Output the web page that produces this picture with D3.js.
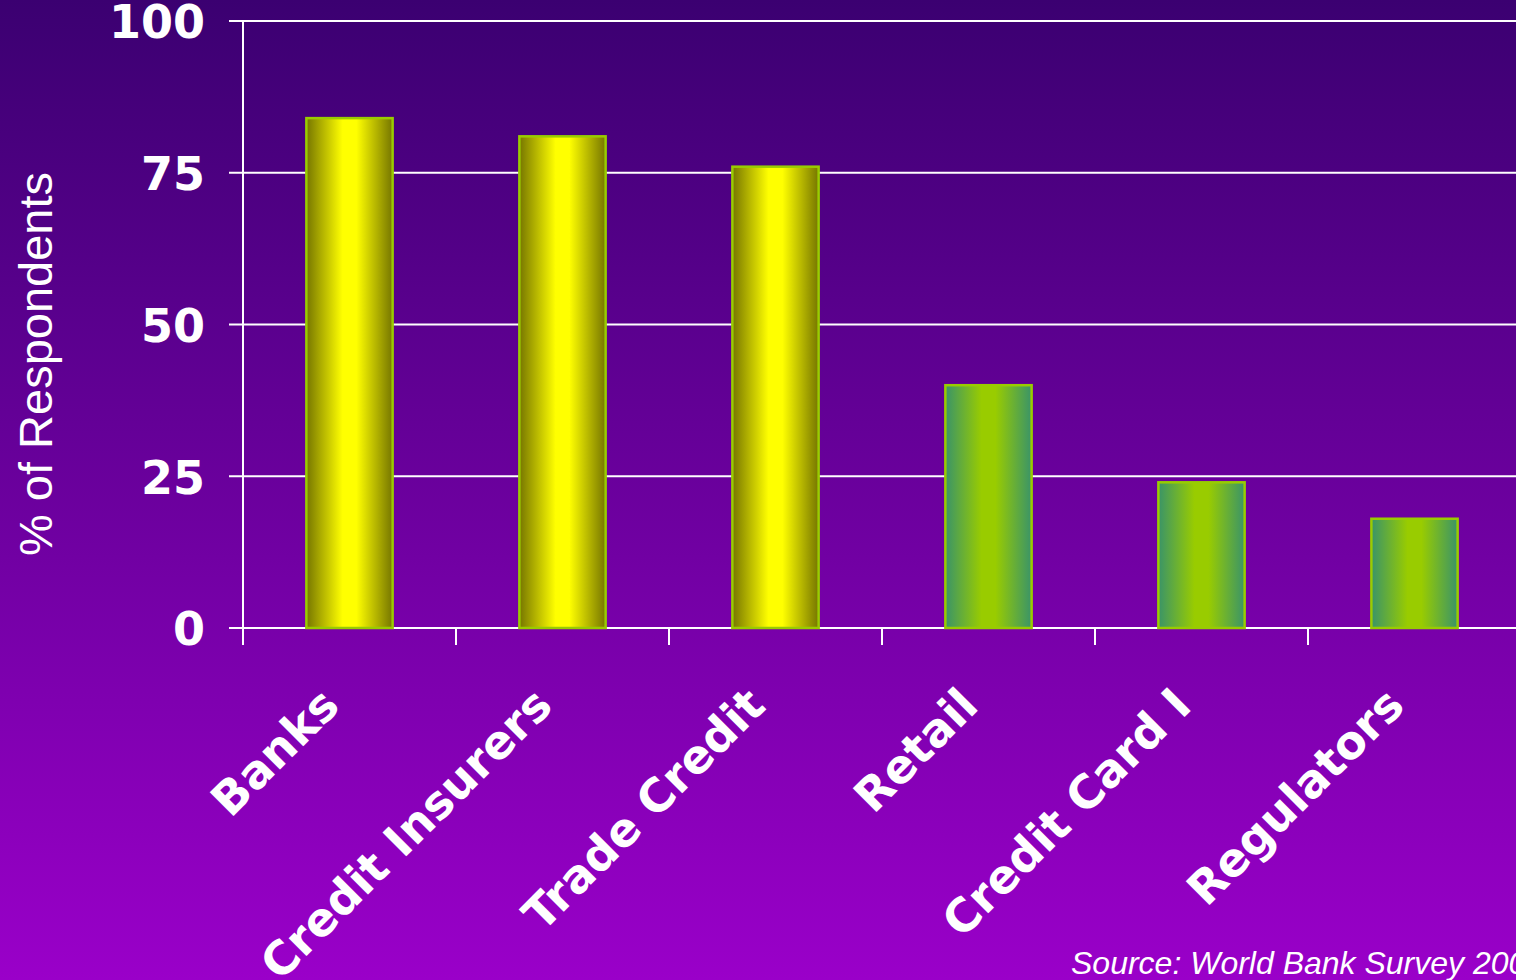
<!DOCTYPE html>
<html>
<head>
<meta charset="utf-8">
<script src="https://cdn.jsdelivr.net/npm/d3@7"></script>
<style>
  body { margin: 0; overflow: hidden; }
  svg { display: block; }
</style>
</head>
<body>
<svg></svg>
<script>
const [WIDTH, HEIGHT] = [1516, 980];
const PLOT_LEFT = 243;
const PLOT_TOP = 21;
const PLOT_BOTTOM = 628;
const BAND = 213;

const categories = ["Banks", "Credit Insurers", "Trade Credit", "Retail", "Credit Card I", "Regulators"];
const respondents = [84, 81, 76, 40, 24, 18];
const barStyle = ["yellow", "yellow", "yellow", "green", "green", "green"];
const yTicks = [0, 25, 50, 75, 100];

const svg = d3.select("svg").attr("width", WIDTH).attr("height", HEIGHT);
const defs = svg.append("defs");

// background gradient
const bg = defs.append("linearGradient").attr("id", "bg")
  .attr("x1", 0).attr("y1", 0).attr("x2", 0).attr("y2", 1);
bg.append("stop").attr("offset", "0%").attr("stop-color", "#3b0071");
bg.append("stop").attr("offset", "100%").attr("stop-color", "#9a00c9");

// bar gradients (cylinder look)
const makeBarGradient = (id, edge, mid) => {
  const g = defs.append("linearGradient").attr("id", id)
    .attr("x1", 0).attr("y1", 0).attr("x2", 1).attr("y2", 0);
  g.append("stop").attr("offset", "0%").attr("stop-color", edge);
  g.append("stop").attr("offset", "42%").attr("stop-color", mid);
  g.append("stop").attr("offset", "58%").attr("stop-color", mid);
  g.append("stop").attr("offset", "100%").attr("stop-color", edge);
};
makeBarGradient("yellow", "#767600", "#ffff00");
makeBarGradient("green", "#3a9468", "#99cc00");

svg.append("rect").attr("width", WIDTH).attr("height", HEIGHT).attr("fill", "url(#bg)");

const x = d3.scaleBand()
  .domain(categories)
  .range([PLOT_LEFT, PLOT_LEFT + BAND * categories.length])
  .padding(0);

const y = d3.scaleLinear().domain([0, 100]).range([PLOT_BOTTOM, PLOT_TOP]);

// gridlines
svg.append("g")
  .selectAll("line")
  .data(yTicks)
  .enter()
  .append("line")
  .attr("x1", PLOT_LEFT - 14)
  .attr("x2", WIDTH)
  .attr("y1", (d) => y(d))
  .attr("y2", (d) => y(d))
  .attr("stroke", "#ffffff")
  .attr("stroke-width", 2);

// y axis line
svg.append("line")
  .attr("x1", PLOT_LEFT).attr("x2", PLOT_LEFT)
  .attr("y1", y(100)).attr("y2", PLOT_BOTTOM + 17)
  .attr("stroke", "#ffffff").attr("stroke-width", 2);

// x ticks at band boundaries
svg.append("g")
  .selectAll("line")
  .data(categories)
  .enter()
  .append("line")
  .attr("x1", (d) => x(d))
  .attr("x2", (d) => x(d))
  .attr("y1", PLOT_BOTTOM)
  .attr("y2", PLOT_BOTTOM + 17)
  .attr("stroke", "#ffffff")
  .attr("stroke-width", 2);

// y tick labels
svg.append("g")
  .selectAll("text")
  .data(yTicks)
  .enter()
  .append("text")
  .attr("x", 205)
  .attr("y", (d) => y(d))
  .attr("dy", "0.38em")
  .attr("text-anchor", "end")
  .attr("fill", "#ffffff")
  .attr("font-family", "DejaVu Sans")
  .attr("font-weight", "bold")
  .attr("font-size", 46)
  .text((d) => d);

// bars
const barW = x.bandwidth() * 0.405;
svg.append("g")
  .selectAll("rect")
  .data(categories)
  .enter()
  .append("rect")
  .attr("x", (d) => x(d) + x.bandwidth() / 2 - barW / 2)
  .attr("y", (d, i) => y(respondents[i]))
  .attr("width", barW)
  .attr("height", (d, i) => PLOT_BOTTOM - y(respondents[i]))
  .attr("fill", (d, i) => `url(#${barStyle[i]})`)
  .attr("stroke", "#99cc00")
  .attr("stroke-width", 2.5);

// x labels
svg.append("g")
  .selectAll("text")
  .data(categories)
  .enter()
  .append("text")
  .attr("transform", (d) => `translate(${x(d) + x.bandwidth() / 2 - 8},${PLOT_BOTTOM + 80}) rotate(-45)`)
  .attr("text-anchor", "end")
  .attr("fill", "#ffffff")
  .attr("font-family", "DejaVu Sans")
  .attr("font-weight", "bold")
  .attr("font-size", 46)
  .text((d) => d);

// y axis title
svg.append("text")
  .attr("transform", `translate(52,364) rotate(-90)`)
  .attr("text-anchor", "middle")
  .attr("fill", "#ffffff")
  .attr("font-family", "Liberation Sans")
  .attr("font-size", 47)
  .text("% of Respondents");

// source note
svg.append("text")
  .attr("x", 1071)
  .attr("y", 974)
  .attr("fill", "#ffffff")
  .attr("font-family", "Liberation Sans")
  .attr("font-style", "italic")
  .attr("font-size", 32)
  .text("Source: World Bank Survey 2004");
</script>
</body>
</html>
